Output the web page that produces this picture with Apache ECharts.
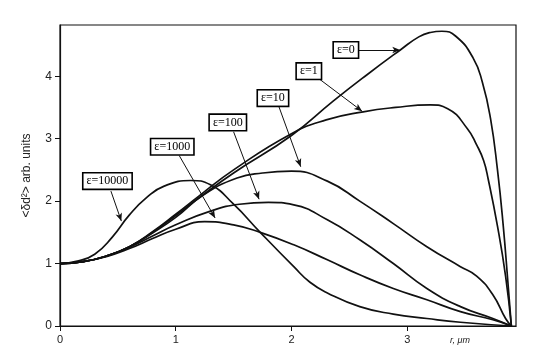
<!DOCTYPE html>
<html><head><meta charset="utf-8">
<script src="https://cdn.jsdelivr.net/npm/echarts@6/dist/echarts.min.js"></script>
<style>html,body{margin:0;padding:0;background:#fff}#c{width:545px;height:358px}</style>
</head><body><div id="c"></div>
<script>
// r (µm) and <δd²> values for each ε curve
const r_e0 = [0, 0.2, 0.4, 0.6, 0.8, 1.0, 1.2, 1.5, 2.0, 2.36, 2.65, 2.94, 3.1, 3.2, 3.3, 3.42, 3.57, 3.65, 3.72, 3.78, 3.83, 3.87, 3.9];
const v_e0 = [1, 1.03, 1.12, 1.27, 1.5, 1.77, 2.05, 2.45, 3.05, 3.6, 4.02, 4.42, 4.63, 4.7, 4.72, 4.64, 4.29, 3.9, 3.32, 2.5, 1.6, 0.7, 0];
const r_e1 = [0, 0.2, 0.4, 0.6, 0.8, 1.0, 1.2, 1.5, 2.0, 2.3, 2.62, 2.9, 3.2, 3.35, 3.52, 3.6, 3.66, 3.7, 3.78, 3.85, 3.9];
const v_e1 = [1, 1.03, 1.12, 1.27, 1.51, 1.79, 2.08, 2.5, 3.08, 3.3, 3.43, 3.5, 3.54, 3.48, 3.16, 2.9, 2.65, 2.35, 1.6, 0.8, 0];
const r_e10 = [0, 0.2, 0.4, 0.6, 0.8, 1.0, 1.24, 1.53, 1.75, 2.0, 2.31, 2.59, 2.88, 3.17, 3.46, 3.6, 3.74, 3.85, 3.9];
const v_e10 = [1, 1.03, 1.12, 1.27, 1.49, 1.74, 2.1, 2.37, 2.45, 2.48, 2.32, 2.0, 1.64, 1.27, 0.95, 0.8, 0.5, 0.12, 0];
const r_e100 = [0, 0.2, 0.4, 0.6, 0.8, 1.0, 1.3, 1.55, 1.8, 2.02, 2.31, 2.59, 2.88, 3.17, 3.46, 3.74, 3.9];
const v_e100 = [1, 1.03, 1.12, 1.26, 1.44, 1.62, 1.84, 1.95, 1.98, 1.94, 1.7, 1.38, 1.0, 0.6, 0.31, 0.12, 0];
const r_e1000 = [0, 0.2, 0.4, 0.6, 0.8, 1.0, 1.25, 1.5, 1.73, 2.02, 2.31, 2.59, 2.88, 3.17, 3.46, 3.74, 3.9];
const v_e1000 = [1, 1.03, 1.11, 1.24, 1.4, 1.55, 1.67, 1.62, 1.5, 1.3, 1.06, 0.82, 0.6, 0.42, 0.23, 0.1, 0];
const r_e10000 = [0, 0.15, 0.3, 0.45, 0.6, 0.75, 0.9, 1.13, 1.3, 1.5, 1.73, 2.02, 2.16, 2.31, 2.59, 2.88, 3.17, 3.46, 3.9];
const v_e10000 = [1, 1.04, 1.15, 1.42, 1.78, 2.06, 2.24, 2.33, 2.26, 1.95, 1.5, 0.95, 0.7, 0.53, 0.31, 0.19, 0.12, 0.06, 0];

const curveNames = ['ε=0', 'ε=1', 'ε=10', 'ε=100', 'ε=1000', 'ε=10000'];
const xTicks = [0, 1, 2, 3];
const yTicks = [0, 1, 2, 3, 4];
// annotation boxes and arrows (data units)
const labelAnchors = [[2.47, 4.42], [2.15, 4.08], [1.84, 3.65], [1.45, 3.26], [0.97, 2.87], [0.41, 2.32]];
const arrowStarts = [[2.58, 4.42], [2.23, 3.97], [1.89, 3.52], [1.5, 3.11], [1.03, 2.73], [0.44, 2.16]];
const arrowEnds = [[2.94, 4.42], [2.61, 3.44], [2.08, 2.55], [1.72, 2.03], [1.34, 1.73], [0.53, 1.68]];

const rs = [r_e0, r_e1, r_e10, r_e100, r_e1000, r_e10000];
const vs = [v_e0, v_e1, v_e10, v_e100, v_e1000, v_e10000];

const lineSeries = rs.map((r, i) => ({
  type: 'line', name: curveNames[i], showSymbol: false, smooth: 0.5,
  lineStyle: { color: '#111', width: 1.7 }, z: 2,
  emphasis: { disabled: true },
  data: r.map((x, j) => [x, vs[i][j]])
}));

const chart = echarts.init(document.getElementById('c'), null, { renderer: 'canvas' });
chart.setOption({
  animation: false,
  backgroundColor: '#fff',
  grid: { left: 60, right: 29, top: 25, bottom: 32, show: true, borderColor: '#111', borderWidth: 1.2, backgroundColor: 'transparent' },
  xAxis: {
    type: 'value', min: 0, max: 3.94,
    axisLine: { show: true, lineStyle: { color: '#111', width: 1.2 } },
    axisTick: { show: true, customValues: xTicks, length: 5, lineStyle: { color: '#111' } },
    axisLabel: { customValues: xTicks, fontSize: 11, color: '#222', margin: 8, fontFamily: 'Liberation Sans' },
    splitLine: { show: false },
    name: 'r, μm', nameLocation: 'end', nameGap: -56,
    nameTextStyle: { fontSize: 9, fontStyle: 'italic', color: '#222', align: 'center', verticalAlign: 'top', padding: [10, 0, 0, 0] }
  },
  yAxis: {
    type: 'value', min: 0, max: 4.82,
    axisLine: { show: true, lineStyle: { color: '#111', width: 1.2 } },
    axisTick: { show: true, customValues: yTicks, length: 5, lineStyle: { color: '#111' } },
    axisLabel: { customValues: yTicks, fontSize: 12, color: '#222', margin: 8, fontFamily: 'Liberation Sans' },
    splitLine: { show: false },
    name: '<δd²> arb. units', nameLocation: 'middle', nameGap: 27, nameRotate: 90,
    nameTextStyle: { fontSize: 12, color: '#222', fontFamily: 'Liberation Sans' }
  },
  series: lineSeries.concat([{
    type: 'scatter', symbol: 'circle', symbolSize: 1, itemStyle: { color: '#ffffff', opacity: 0 }, z: 5,
    data: labelAnchors.map((p, i) => ({ value: p, name: curveNames[i] })),
    label: {
      show: true, position: 'inside', formatter: '{b}', fontFamily: 'Liberation Serif', fontSize: 12, color: '#000000',
      backgroundColor: '#ffffff', borderColor: '#000000', borderWidth: 1.6, padding: [2, 3, 1, 3],
      textBorderWidth: 0, textShadowBlur: 0, opacity: 1
    },
    emphasis: { disabled: true },
    markLine: {
      silent: true, symbol: ['none', 'arrow'], symbolSize: [5, 8],
      lineStyle: { color: '#111', width: 1, type: 'solid', opacity: 1 }, label: { show: false },
      data: arrowStarts.map((s, i) => [{ coord: s }, { coord: arrowEnds[i] }])
    }
  }])
});
</script></body></html>
